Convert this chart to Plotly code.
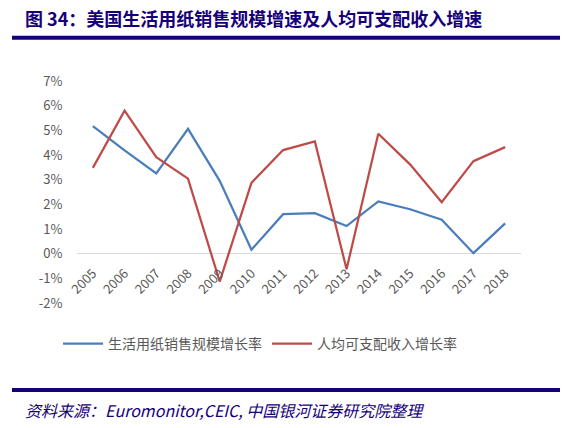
import plotly.graph_objects as go

# Data (% growth)
years = ['2005', '2006', '2007', '2008', '2009', '2010', '2011',
         '2012', '2013', '2014', '2015', '2016', '2017', '2018']
paper_sales = [5.17, 4.19, 3.25, 5.06, 2.95, 0.16, 1.60,
               1.64, 1.12, 2.12, 1.80, 1.38, 0.02, 1.23]
income = [3.48, 5.80, 3.91, 3.04, -1.13, 2.87, 4.20,
          4.55, -0.63, 4.86, 3.62, 2.09, 3.75, 4.32]
y_ticks = [-2, -1, 0, 1, 2, 3, 4, 5, 6, 7]
y_labels = ['-2%', '-1%', '0%', '1%', '2%', '3%', '4%', '5%', '6%', '7%']

title_text = '图 34：美国生活用纸销售规模增速及人均可支配收入增速'
source_text = '资料来源：Euromonitor,CEIC, 中国银河证券研究院整理'

navy = '#16007a'
grey = '#595959'
cjk = 'Noto Sans CJK SC'

# plot area in pixels: left 77, right 521, top 81, bottom 303
W, H = 579, 428
ml, mr, mt, mb = 77, 58, 81, 125
pw, ph = W - ml - mr, H - mt - mb


def px_x(x):
    return (x - ml) / pw


def px_y(y):
    return (H - mb - y) / ph


fig = go.Figure()
fig.add_trace(go.Scatter(x=years, y=paper_sales, mode='lines',
                         name='生活用纸销售规模增长率',
                         line=dict(color='#4a7ebb', width=2.25)))
fig.add_trace(go.Scatter(x=years, y=income, mode='lines',
                         name='人均可支配收入增长率',
                         line=dict(color='#be4b48', width=2.25)))

fig.update_layout(
    width=W, height=H,
    margin=dict(l=ml, r=mr, t=mt, b=mb, autoexpand=False),
    paper_bgcolor='white', plot_bgcolor='white',
    font=dict(family=cjk, color=grey),
    showlegend=True,
    legend=dict(orientation='h', x=px_x(260), xanchor='center',
                y=px_y(344), yanchor='middle',
                font=dict(size=14, color=grey),
                itemwidth=40, tracegroupgap=0),
    xaxis=dict(type='category', anchor='free', position=2 / 9,
               showgrid=False, showline=False,
               ticks='outside', ticklen=6, tickcolor='rgba(0,0,0,0)',
               tickangle=-45, tickfont=dict(size=13, color=grey),
               range=[-0.5, len(years) - 0.5]),
    yaxis=dict(range=[-2, 7], tickvals=y_ticks, ticktext=y_labels,
               showgrid=False, zeroline=True, zerolinecolor='#d9d9d9',
               zerolinewidth=1.2, showline=False,
               ticks='outside', ticklen=11, tickcolor='rgba(0,0,0,0)',
               tickfont=dict(size=13, color=grey)),
)

# header and footer rules
for y in (37.7, 390):
    fig.add_shape(type='line', xref='paper', yref='paper',
                  x0=px_x(12), x1=px_x(560), y0=px_y(y), y1=px_y(y),
                  line=dict(color=navy, width=4))

fig.add_annotation(text='<b>' + title_text + '</b>', xref='paper', yref='paper',
                   x=px_x(23), y=px_y(18), xanchor='left', yanchor='middle',
                   showarrow=False, font=dict(size=18, color=navy, family=cjk))
fig.add_annotation(text='<i>' + source_text + '</i>', xref='paper', yref='paper',
                   x=px_x(23), y=px_y(410), xanchor='left', yanchor='middle',
                   showarrow=False, font=dict(size=16, color=navy, family=cjk))

# drop the browser's default body margin so the figure sits at (0, 0)
fig.write_html('out.html', config={'displayModeBar': False},
               post_script="document.body.style.margin='0';")
